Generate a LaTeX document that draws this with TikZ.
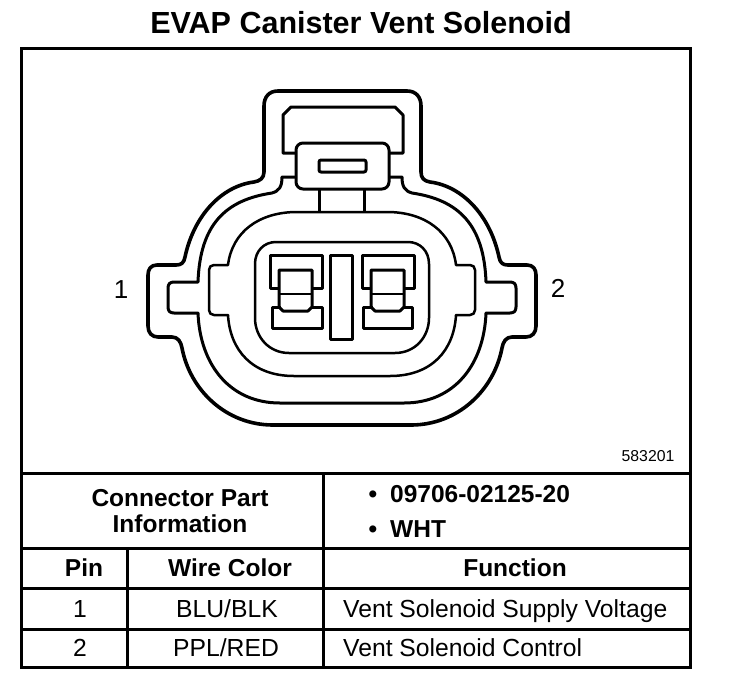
\documentclass[tikz,border=0pt]{standalone}
\usepackage{fontspec}
\setmainfont{Liberation Sans}
\tikzset{
    frameline/.style={line width=3pt},
    partline/.style={line width=3pt, line join=round},
    thinpart/.style={line width=2.5pt, line join=round},
    cell/.style={inner sep=0pt, anchor=base, font=\fontsize{24.7}{27}\selectfont},
    headcell/.style={cell, font=\fontsize{24.5}{26.5}\selectfont\bfseries},
}
\begin{document}
\begin{tikzpicture}[x=1pt, y=-1pt]
    \useasboundingbox (0, 0) rectangle (736, 686);

    % Title
    \node[inner sep=0pt, font=\fontsize{30.5}{34}\selectfont\bfseries] (title) at (361, 23) {EVAP Canister Vent Solenoid};

    % Frame and table rules
    \draw[frameline] (21, 48) rectangle (690, 667);
    \draw[frameline] (21, 473) -- (690, 473);
    \draw[frameline] (21, 548) -- (690, 548);
    \draw[frameline] (21, 588) -- (690, 588);
    \draw[frameline] (21, 629) -- (690, 629);
    \draw[frameline] (323, 473) -- (323, 667);
    \draw[frameline] (127, 548) -- (127, 667);

    % Outer shell
    \draw[partline, line width=3.6pt] (278, 91) -- (407, 91)
        .. controls (416, 91) and (421, 97) .. (421, 106) -- (421, 172)
        .. controls (421, 178) and (424, 181) .. (430, 182)
        .. controls (462, 186) and (490, 215) .. (499, 257)
        .. controls (500, 263) and (503, 265) .. (508, 265) -- (527, 265)
        .. controls (533, 265) and (536, 269) .. (536, 275) -- (536, 326)
        .. controls (536, 333) and (532, 337) .. (526, 337) -- (512, 337)
        .. controls (506, 337) and (503, 342) .. (502, 348)
        .. controls (494, 390) and (458, 425) .. (411, 425) -- (273, 425)
        .. controls (226, 425) and (190, 390) .. (182, 348)
        .. controls (181, 342) and (178, 337) .. (172, 337) -- (158, 337)
        .. controls (152, 337) and (148, 333) .. (148, 326) -- (148, 275)
        .. controls (148, 269) and (151, 265) .. (157, 265) -- (176, 265)
        .. controls (181, 265) and (184, 263) .. (185, 257)
        .. controls (194, 215) and (222, 186) .. (254, 182)
        .. controls (260, 181) and (264, 178) .. (264, 172) -- (264, 106)
        .. controls (264, 97) and (269, 91) .. (278, 91) -- cycle;

    % Middle wall, open at the latch
    \draw[partline] (296, 177) -- (282, 177)
        .. controls (282, 187) and (279, 191) .. (272, 193)
        .. controls (225, 200) and (200, 225) .. (198, 282)
        -- (174, 282) .. controls (170, 282) and (168, 284) .. (168, 288)
        -- (168, 307) .. controls (168, 311) and (170, 313) .. (174, 313)
        -- (198, 313)
        .. controls (200, 365) and (230, 403) .. (280, 403) -- (404, 403)
        .. controls (454, 403) and (484, 365) .. (486, 313)
        -- (510, 313) .. controls (514, 313) and (516, 311) .. (516, 307)
        -- (516, 288) .. controls (516, 284) and (514, 282) .. (510, 282)
        -- (486, 282)
        .. controls (484, 225) and (459, 200) .. (412, 193)
        .. controls (405, 191) and (402, 187) .. (402, 177) -- (389, 177);

    % Inner collar
    \draw[thinpart] (297, 212) -- (387, 212)
        .. controls (425, 212) and (452, 232) .. (456, 265)
        -- (470, 265) .. controls (473, 265) and (475, 267) .. (475, 270)
        -- (475, 310) .. controls (475, 313) and (473, 315) .. (470, 315)
        -- (456, 315)
        .. controls (454, 350) and (432, 376) .. (390, 376) -- (294, 376)
        .. controls (252, 376) and (230, 350) .. (228, 315)
        -- (214, 315) .. controls (211, 315) and (209, 313) .. (209, 310)
        -- (209, 270) .. controls (209, 267) and (211, 265) .. (214, 265)
        -- (228, 265)
        .. controls (232, 232) and (259, 212) .. (297, 212) -- cycle;

    % Terminal cavity
    \draw[thinpart] (276, 242) -- (408, 242)
        .. controls (420, 242) and (429, 251) .. (429, 264) -- (429, 318)
        .. controls (429, 337) and (415, 353) .. (395, 353) -- (289, 353)
        .. controls (269, 353) and (255, 337) .. (255, 318) -- (255, 264)
        .. controls (255, 251) and (264, 242) .. (276, 242) -- cycle;

    % Centre divider
    \draw[partline] (330, 255) rectangle (352, 339);

    % Pin 1 terminal
    \draw[partline] (279, 288) -- (270, 288) -- (270, 255) -- (322, 255) -- (322, 288) -- (312, 288);
    \draw[partline] (281, 307) -- (272, 307) -- (272, 328) -- (322, 328) -- (322, 307) -- (312, 307);
    \draw[partline] (279, 270) -- (312, 270) -- (312, 307) -- (308, 311) -- (283, 311) -- (279, 307) -- cycle;
    \draw[thinpart, line width=1.6pt] (279, 294) -- (312, 294);

    % Pin 2 terminal
    \draw[partline] (371, 288) -- (362, 288) -- (362, 255) -- (414, 255) -- (414, 288) -- (404, 288);
    \draw[partline] (373, 307) -- (363, 307) -- (363, 328) -- (412, 328) -- (412, 307) -- (404, 307);
    \draw[partline] (371, 270) -- (404, 270) -- (404, 307) -- (400, 311) -- (375, 311) -- (371, 307) -- cycle;
    \draw[thinpart, line width=1.6pt] (371, 294) -- (404, 294);

    % Latch
    \draw[partline] (296, 153) -- (283, 153) -- (283, 115) -- (291, 107) -- (395, 107) -- (403, 115) -- (403, 153) -- (389, 153);
    \draw[partline, rounded corners=7pt] (296, 143) rectangle (389, 189);
    \draw[partline, rounded corners=2pt] (319, 160) rectangle (366, 172);
    \draw[partline] (319, 189) -- (319, 212);
    \draw[partline] (364, 189) -- (364, 212);

    % Pin numbers and drawing number
    \node[inner sep=0pt, font=\fontsize{26}{30}\selectfont] (pin1) at (121, 290) {1};
    \node[inner sep=0pt, font=\fontsize{26}{30}\selectfont] (pin2) at (558, 288) {2};
    \node[inner sep=0pt, font=\fontsize{15.8}{18}\selectfont] (drawnum) at (648, 456) {583201};

    % Table text
    \node[headcell, anchor=center, align=center] (parthead) at (180, 511) {Connector Part\\Information};
    \node[headcell] (bulletnum) at (373, 502) {•};
    \node[headcell, anchor=base west] (partnum) at (390, 502) {09706-02125-20};
    \node[headcell] (bulletcol) at (373, 537) {•};
    \node[headcell, anchor=base west] (partcol) at (390, 537) {WHT};
    \node[headcell] (pinhead) at (84, 576) {Pin};
    \node[headcell] (wirehead) at (230, 576) {Wire Color};
    \node[headcell] (funchead) at (515, 576) {Function};
    \node[cell] (pinone) at (80, 617) {1};
    \node[cell] (wireone) at (227, 617) {BLU/BLK};
    \node[cell, anchor=base west] (funcone) at (343, 617) {Vent Solenoid Supply Voltage};
    \node[cell] (pintwo) at (80, 656) {2};
    \node[cell] (wiretwo) at (226, 656) {PPL/RED};
    \node[cell, anchor=base west] (functwo) at (343, 656) {Vent Solenoid Control};
\end{tikzpicture}
\end{document}
